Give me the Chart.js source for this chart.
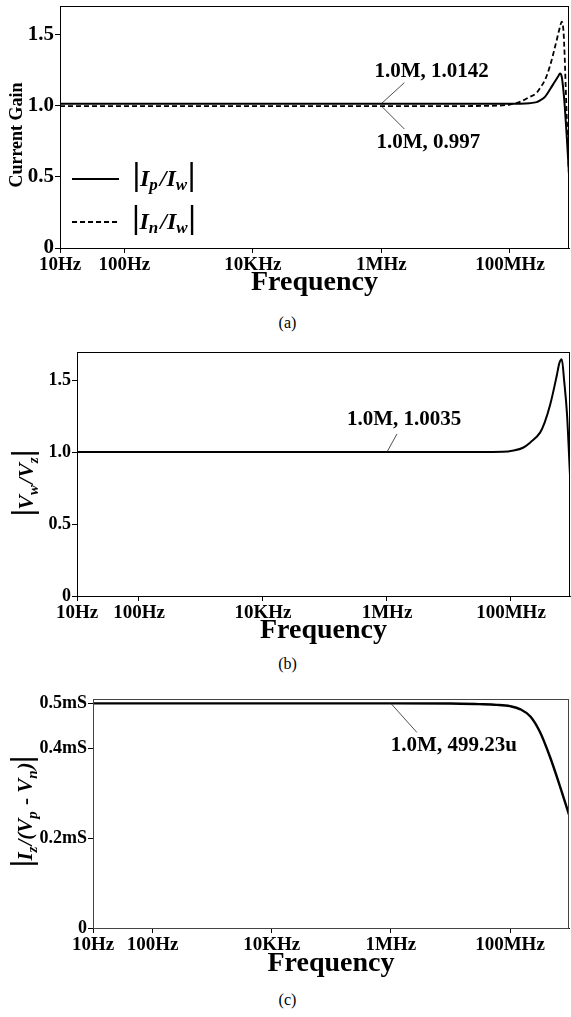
<!DOCTYPE html>
<html>
<head>
<meta charset="utf-8">
<script src="https://cdn.jsdelivr.net/npm/chart.js@4.4.1/dist/chart.umd.min.js"></script>
<style>
  html, body { margin: 0; padding: 0; background: #fff; }
  body { width: 571px; height: 1017px; position: relative; overflow: hidden; font-family: "Liberation Serif", "Times New Roman", serif; }
  canvas { position: absolute; left: 0; }
  .cap { position: absolute; left: 2px; width: 571px; text-align: center; font-size: 16px; line-height: 18px; color: #000; }
</style>
</head>
<body>
<canvas id="cA" width="571" height="301" style="top:0px"></canvas>
<div class="cap" style="top:314px">(a)</div>
<canvas id="cB" width="571" height="319" style="top:330px"></canvas>
<div class="cap" style="top:655px">(b)</div>
<canvas id="cC" width="571" height="302" style="top:680px"></canvas>
<div class="cap" style="top:991px">(c)</div>
<script>
const SERIF = '"Liberation Serif", "Times New Roman", serif';

// x axis (shared)
const xTickValues = [10, 100, 1e4, 1e6, 1e8];
const xTickLabels = ['10Hz', '100Hz', '10KHz', '1MHz', '100MHz'];

// (a) current gain
const freqA = [10, 1e6, 1e7, 5e7, 1e8, 1.4e8, 2e8, 2.6e8, 2.9e8, 3.5e8, 4.2e8, 5.0e8, 5.6e8, 6.0e8, 6.4e8, 6.8e8, 7.1e8, 7.4e8, 7.7e8, 8.28e8];
const ipIw  = [1.0142, 1.0142, 1.0141, 1.0138, 1.0136, 1.014, 1.017, 1.025, 1.035, 1.062, 1.115, 1.17, 1.205, 1.225, 1.20, 1.10, 1.00, 0.88, 0.76, 0.52];
const inIw  = [0.997, 0.997, 0.997, 0.999, 1.008, 1.025, 1.06, 1.09, 1.12, 1.18, 1.28, 1.41, 1.50, 1.555, 1.59, 1.52, 1.34, 1.10, 0.88, 0.50];
const yTicksA = [0, 0.5, 1.0, 1.5];

// (b) |Vw/Vz|
const freqB = [10, 1e6, 3e7, 7.4e7, 1.1e8, 1.56e8, 2.05e8, 2.96e8, 3.5e8, 4.27e8, 5.5e8, 6.0e8, 6.6e8, 7.2e8, 8.0e8, 8.95e8];
const vwVz  = [1.0035, 1.0035, 1.0035, 1.005, 1.014, 1.033, 1.07, 1.14, 1.21, 1.33, 1.54, 1.62, 1.65, 1.50, 1.27, 0.84];
const yTicksB = [0, 0.5, 1.0, 1.5];

// (c) transconductance, mS
const freqC = [10, 1e6, 1e7, 3e7, 6e7, 1e8, 1.5e8, 2.2e8, 3.2e8, 4.7e8, 6.9e8, 9.78e8];
const izGm  = [0.49923, 0.49923, 0.4990, 0.4975, 0.496, 0.493, 0.486, 0.47, 0.435, 0.38, 0.315, 0.252];
const yTicksC = [0, 0.2, 0.4, 0.5];

const pts = (xs, ys) => xs.map((f, i) => ({ x: f, y: ys[i] }));

// rich text: parts drawn left to right on a baseline, optionally rotated
function drawRich(ctx, parts, x, y, rotate) {
  ctx.save();
  ctx.translate(x, y);
  if (rotate) ctx.rotate(-Math.PI / 2);
  let w = 0;
  parts.forEach(p => {
    if (p.bar) w += p.w;
    else { ctx.font = p.font; w += ctx.measureText(p.t).width + (p.gap || 0); }
  });
  let cx = -w / 2;
  ctx.fillStyle = '#000';
  ctx.strokeStyle = '#000';
  ctx.textBaseline = 'alphabetic';
  ctx.textAlign = 'left';
  parts.forEach(p => {
    if (p.bar) {
      ctx.lineWidth = 2.4;
      ctx.beginPath();
      ctx.moveTo(cx + p.w / 2, p.y0);
      ctx.lineTo(cx + p.w / 2, p.y1);
      ctx.stroke();
      cx += p.w;
    } else {
      ctx.font = p.font;
      ctx.fillText(p.t, cx, p.dy || 0);
      cx += ctx.measureText(p.t).width + (p.gap || 0);
    }
  });
  ctx.restore();
}

const BI = s => `italic bold ${s}px ${SERIF}`;
const B = s => `bold ${s}px ${SERIF}`;

const decor = {
  id: 'decor',
  afterDraw(chart, args, opts) {
    const { ctx, chartArea: a, scales: { x, y } } = chart;
    ctx.save();
    ctx.strokeStyle = opts.frameColor || '#000';
    ctx.lineWidth = 1;
    ctx.strokeRect(a.left + 0.5, a.top + 0.5, a.right - a.left - 1, a.bottom - a.top);
    ctx.restore();

    (opts.notes || []).forEach(n => {
      const px = x.getPixelForValue(n.f), py = y.getPixelForValue(n.v);
      ctx.save();
      ctx.strokeStyle = '#222';
      ctx.lineWidth = 0.8;
      ctx.beginPath();
      ctx.moveTo(px, py);
      ctx.lineTo(px + n.lx, py + n.ly);
      ctx.stroke();
      ctx.font = B(21);
      ctx.fillStyle = '#000';
      ctx.textBaseline = 'middle';
      ctx.textAlign = 'left';
      ctx.fillText(n.text, px + n.tx, py + n.ty);
      ctx.restore();
    });

    if (opts.legend) {
      opts.legend.forEach(l => {
        ctx.save();
        ctx.strokeStyle = '#000';
        ctx.lineWidth = 2;
        ctx.setLineDash(l.dash || []);
        ctx.beginPath();
        ctx.moveTo(a.left + 12, a.top + l.dy);
        ctx.lineTo(a.left + 59, a.top + l.dy);
        ctx.stroke();
        ctx.restore();
        drawRich(ctx, l.parts, a.left + 104, a.top + l.dy + 7, false);
      });
    }

    if (opts.yTitle) {
      const t = opts.yTitle;
      if (t.text) {
        ctx.save();
        ctx.translate(t.x, (a.top + a.bottom) / 2 + t.dy);
        ctx.rotate(-Math.PI / 2);
        ctx.font = B(18);
        ctx.fillStyle = '#000';
        ctx.textAlign = 'center';
        ctx.textBaseline = 'middle';
        ctx.fillText(t.text, 0, 0);
        ctx.restore();
      } else {
        drawRich(ctx, t.parts, t.x, (a.top + a.bottom) / 2 + t.dy, true);
      }
    }
  }
};

function makePanel(id, cfg) {
  new Chart(document.getElementById(id).getContext('2d'), {
    type: 'line',
    data: { datasets: cfg.datasets },
    options: {
      responsive: false,
      animation: false,
      devicePixelRatio: 1,
      layout: { padding: { top: cfg.padTop, right: cfg.padRight, left: 0, bottom: 0 } },
      elements: { point: { radius: 0 }, line: { cubicInterpolationMode: 'monotone', borderColor: '#000', borderWidth: 2 } },
      plugins: {
        legend: { display: false },
        tooltip: { enabled: false },
        decor: cfg.decor
      },
      scales: {
        x: {
          type: 'logarithmic',
          min: 10,
          max: cfg.xMax,
          afterFit: s => { s.height = cfg.xHeight; s.paddingLeft = 0; s.paddingRight = 0; },
          afterBuildTicks: s => { s.ticks = xTickValues.map(v => ({ value: v })); },
          grid: { drawOnChartArea: false, drawTicks: true, tickLength: 5, color: '#000' },
          border: { display: true, color: '#000', width: 1 },
          ticks: {
            autoSkip: false, maxRotation: 0, minRotation: 0, padding: 1, color: '#000',
            font: { family: SERIF, size: 19, weight: 'bold' },
            callback: v => xTickLabels[xTickValues.indexOf(v)] || ''
          },
          title: {
            display: true, text: 'Frequency', color: '#000',
            font: { family: SERIF, size: 28, weight: 'bold' },
            padding: { top: 0, bottom: 1 }
          }
        },
        y: {
          min: 0,
          max: cfg.yMax,
          afterFit: s => { s.width = cfg.yWidth; s.paddingTop = 0; s.paddingBottom = 0; },
          afterBuildTicks: s => { s.ticks = cfg.yTicks.map(v => ({ value: v })); },
          grid: { drawOnChartArea: false, drawTicks: true, tickLength: 5, color: '#000' },
          border: { display: true, color: cfg.frameColor || '#000', width: 1 },
          ticks: {
            padding: 1, color: '#000',
            font: { family: SERIF, size: cfg.yFont, weight: 'bold' },
            callback: cfg.yLabel
          }
        }
      }
    },
    plugins: [decor]
  });
}

makePanel('cA', {
  padTop: 6, padRight: 2, xHeight: 53, yWidth: 60, xMax: 8.28e8, yMax: 1.70, yTicks: yTicksA, yFont: 21,
  yLabel: v => v === 0 ? '0' : v.toFixed(1),
  datasets: [
    { data: pts(freqA, ipIw), borderColor: '#000', borderWidth: 2 },
    { data: pts(freqA, inIw), borderColor: '#000', borderWidth: 1.8, borderDash: [5, 3] }
  ],
  decor: {
    notes: [
      { f: 1e6, v: 1.0142, lx: 23, ly: -21, tx: -7, ty: -32, text: '1.0M, 1.0142' },
      { f: 1e6, v: 0.997, lx: 23, ly: 23, tx: -5, ty: 37, text: '1.0M, 0.997' }
    ],
    legend: [
      { dy: 173, dash: [], parts: [
        { bar: true, w: 7, y0: -24, y1: 6 },
        { t: 'I', font: BI(24) }, { t: 'p', font: BI(17), dy: 4, gap: 2 },
        { t: '/', font: BI(24) },
        { t: 'I', font: BI(24) }, { t: 'w', font: BI(17), dy: 4, gap: 1 },
        { bar: true, w: 7, y0: -24, y1: 6 }
      ] },
      { dy: 216, dash: [5, 3], parts: [
        { bar: true, w: 7, y0: -24, y1: 6 },
        { t: 'I', font: BI(24) }, { t: 'n', font: BI(17), dy: 4, gap: 2 },
        { t: '/', font: BI(24) },
        { t: 'I', font: BI(24) }, { t: 'w', font: BI(17), dy: 4, gap: 1 },
        { bar: true, w: 7, y0: -24, y1: 6 }
      ] }
    ],
    yTitle: { text: 'Current Gain', x: 17, dy: 8 }
  }
});

makePanel('cB', {
  padTop: 22, padRight: 1, xHeight: 53, yWidth: 77, xMax: 8.95e8, yMax: 1.70, yTicks: yTicksB, yFont: 18,
  yLabel: v => v === 0 ? '0' : v.toFixed(1),
  datasets: [
    { data: pts(freqB, vwVz), borderColor: '#000', borderWidth: 2 }
  ],
  decor: {
    notes: [
      { f: 1e6, v: 1.0035, lx: 10, ly: -18, tx: -40, ty: -32, text: '1.0M, 1.0035' }
    ],
    yTitle: { x: 33, dy: 9, parts: [
      { bar: true, w: 6, y0: -22, y1: 6 },
      { t: 'V', font: BI(22) }, { t: 'w', font: BI(15), dy: 5, gap: 1 },
      { t: '/', font: BI(22) },
      { t: 'V', font: BI(22) }, { t: 'z', font: BI(15), dy: 5, gap: 1 },
      { bar: true, w: 6, y0: -22, y1: 6 }
    ] }
  }
});

makePanel('cC', {
  padTop: 19, padRight: 2, xHeight: 54, yWidth: 93, xMax: 9.78e8, yMax: 0.509, yTicks: yTicksC, yFont: 18,
  yLabel: v => v === 0 ? '0' : v.toFixed(1) + 'mS',
  frameColor: '#444',
  datasets: [
    { data: pts(freqC, izGm), borderColor: '#000', borderWidth: 2.4 }
  ],
  decor: {
    frameColor: '#444',
    notes: [
      { f: 1e6, v: 0.49923, lx: 26, ly: 29, tx: 0, ty: 42, text: '1.0M, 499.23u' }
    ],
    yTitle: { x: 32, dy: -2, parts: [
      { bar: true, w: 6, y0: -22, y1: 6 },
      { t: 'I', font: BI(21) }, { t: 'z', font: BI(15), dy: 5, gap: 1 },
      { t: '/(', font: BI(21) },
      { t: 'V', font: BI(21) }, { t: 'p', font: BI(15), dy: 5, gap: 1 },
      { t: ' - ', font: B(21) },
      { t: 'V', font: BI(21) }, { t: 'n', font: BI(15), dy: 5, gap: 1 },
      { t: ')', font: BI(21) },
      { bar: true, w: 6, y0: -22, y1: 6 }
    ] }
  }
});
</script>
</body>
</html>
